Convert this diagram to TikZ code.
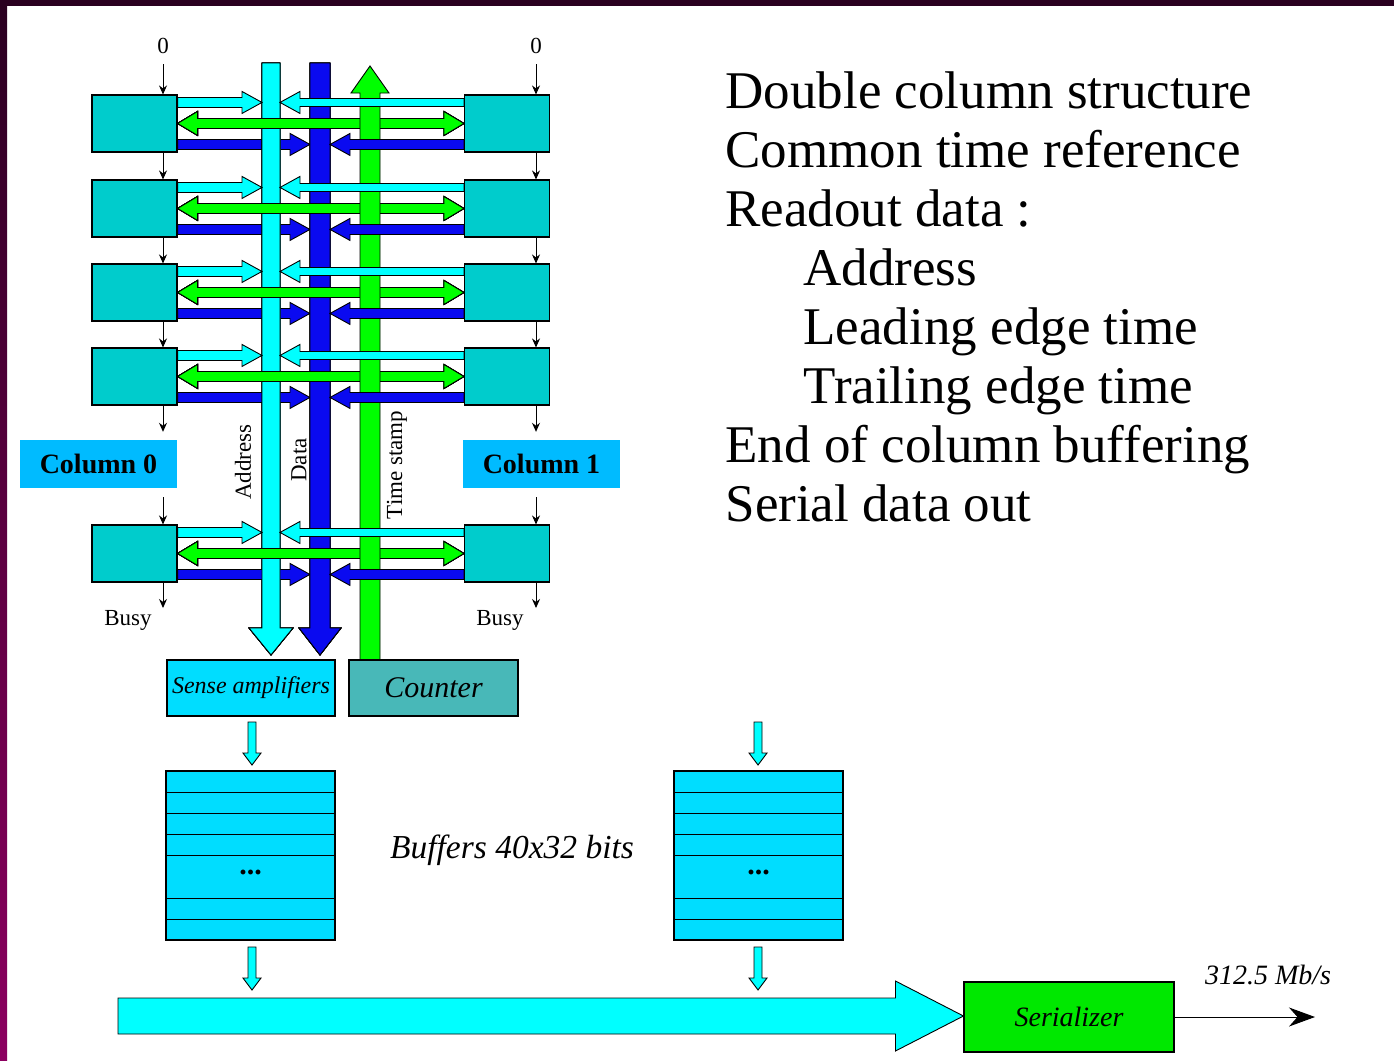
\documentclass[tikz,border=0pt]{standalone}
\usepackage{fontspec}
\setmainfont{Liberation Serif}
\usetikzlibrary{arrows.meta}
\usetikzlibrary{calc}
\definecolor{cellteal}{RGB}{0,204,204}
\definecolor{addrcyan}{RGB}{0,255,255}
\definecolor{datablue}{RGB}{10,10,240}
\definecolor{stampgreen}{RGB}{0,255,0}
\definecolor{serialgreen}{RGB}{0,232,0}
\definecolor{labelblue}{RGB}{0,187,255}
\definecolor{ampblue}{RGB}{0,221,255}
\definecolor{countteal}{RGB}{72,184,184}
\definecolor{framedark}{RGB}{42,0,32}
\definecolor{framemag}{RGB}{140,0,96}
\tikzset{
cell/.style={ % pixel cells of the two columns
draw, line width=1.1pt,
fill=cellteal,
minimum width=85pt, minimum height=57pt,
inner sep=0pt},
collabel/.style={ % Column 0 / Column 1 tags
fill=labelblue,
minimum width=157pt, minimum height=48pt,
font=\fontsize{28}{30}\selectfont\bfseries},
unit/.style={ % boxes below the matrix
draw, line width=1.1pt,
inner sep=0pt},
sig/.style={ % thin token / busy lines
-{Stealth[length=9pt,width=8pt]},
line width=1pt},
small/.style={font=\fontsize{23}{25}\selectfont},
slanted/.style={font=\itshape\fontsize{28}{30}\selectfont},
bigtext/.style={anchor=base west, font=\fontsize{53}{59}\selectfont},
cyanarr/.style={draw, line width=0.9pt, fill=addrcyan},
bluearr/.style={draw, line width=0.9pt, fill=datablue},
greenarr/.style={draw, line width=0.9pt, fill=stampgreen}}
% block arrows: style, start, tip, half shaft, half head, head length
\newcommand{\harr}[6]{%
\filldraw[#1] let \p1=(#2), \p2=(#3), \n1={\x2-#6*((\x2-\x1)/abs(\x2-\x1))} in
(\x1,\y1+#4) -- (\n1,\y1+#4) -- (\n1,\y1+#5) -- (\x2,\y1)
-- (\n1,\y1-#5) -- (\n1,\y1-#4) -- (\x1,\y1-#4) -- cycle;}
\newcommand{\varr}[6]{%
\filldraw[#1] let \p1=(#2), \p2=(#3), \n1={\y2-#6*((\y2-\y1)/abs(\y2-\y1))} in
(\x1+#4,\y1) -- (\x1+#4,\n1) -- (\x1+#5,\n1) -- (\x1,\y2)
-- (\x1-#5,\n1) -- (\x1-#4,\n1) -- (\x1-#4,\y1) -- cycle;}

\begin{document}
\begin{tikzpicture}[x=1pt,y=-1pt]
\useasboundingbox (0,0) rectangle (1394,1060);
% slide frame
\fill[white] (0,0) rectangle (1394,1060);
\fill[framedark] (0,0) rectangle (1394,6);
\shade[top color=framedark, bottom color=framemag] (0,0) rectangle (7,1060);

% cells
\foreach \i/\y in {1/95,2/180,3/264,4/348,5/525}{
\node[cell] (L\i) at (134.5,\y+28.5) {};
\node[cell] (R\i) at (507,\y+28.5) {};
}
\node[collabel] (col0) at (98.5,464) {Column 0};
\node[collabel] (col1) at (541.5,464) {Column 1};
\node[small] (zeroL) at (163,46) {0};
\node[small] (zeroR) at (536,46) {0};
\node[small] (busyL) at (128,620) {Busy};
\node[small] (busyR) at (500,620) {Busy};

% token lines
\draw[sig, shorten <=7pt] (zeroL.south) -- (163,0 |- L1.north);
\draw[sig, shorten <=7pt] (zeroR.south) -- (536,0 |- R1.north);
\foreach \i/\j in {1/2,2/3,3/4}{
\draw[sig] (163,0 |- L\i.south) -- (163,0 |- L\j.north);
\draw[sig] (536,0 |- R\i.south) -- (536,0 |- R\j.north);
}
\draw[sig, shorten >=8pt] (163,0 |- L4.south) -- (163,0 |- col0.north);
\draw[sig, shorten >=8pt] (536,0 |- R4.south) -- (536,0 |- col1.north);
\draw[sig, shorten <=9pt] (163,0 |- col0.south) -- (163,0 |- L5.north);
\draw[sig, shorten <=9pt] (536,0 |- col1.south) -- (536,0 |- R5.north);
\draw[sig] (163,0 |- L5.south) -- (163,608);
\draw[sig] (536,0 |- R5.south) -- (536,608);

% periphery
\node[unit, fill=ampblue, minimum width=168pt, minimum height=56pt,
font=\itshape\fontsize{24}{26}\selectfont] (sense) at (251,688) {Sense amplifiers};
\node[unit, fill=countteal, minimum width=169pt, minimum height=56pt,
font=\itshape\fontsize{30}{32}\selectfont] (counter) at (433.5,688) {Counter};

% buses
\coordinate (addrW) at (262,0);
\coordinate (addrE) at (280,0);
\coordinate (dataW) at (310,0);
\coordinate (dataE) at (330,0);
\foreach \i in {1,...,5}
\harr{bluearr}{[yshift=-50pt]L\i.north east}{dataW}{5}{11}{20}
\varr{bluearr}{320,63}{320,655}{10}{21}{27}
\varr{cyanarr}{271,63}{271,655}{9}{22}{27}
\foreach \i in {1,...,5}
\filldraw[greenarr] let \p1=([yshift=-29pt]L\i.north east), \p2=(R\i.west) in
(\x1,\y1) -- (\x1+20,\y1+12) -- (\x1+20,\y1+5) -- (\x2-20,\y1+5) -- (\x2-20,\y1+12)
-- (\x2,\y1) -- (\x2-20,\y1-12) -- (\x2-20,\y1-5) -- (\x1+20,\y1-5) -- (\x1+20,\y1-12) -- cycle;
\varr{greenarr}{370,0 |- counter.north}{370,66}{10}{19}{27}
\foreach \i in {1,...,5}{
\harr{cyanarr}{[yshift=-8pt]L\i.north east}{addrW}{5}{11}{20}
\harr{cyanarr}{[yshift=-8pt]R\i.north west}{addrE}{4}{11}{20}
\harr{bluearr}{[yshift=-50pt]R\i.north west}{dataE}{5}{11}{20}
}
\node[small, rotate=90] (addrlbl) at (243,462) {Address};
\node[small, rotate=90] (datalbl) at (299,460) {Data};
\node[small, rotate=90] (stamplbl) at (397,465) {Time stamp};

% end of column buffers
\node[unit, fill=ampblue, minimum width=169pt, minimum height=169pt] (bufL) at (250.5,855.5) {};
\node[unit, fill=ampblue, minimum width=169pt, minimum height=169pt] (bufR) at (758.5,855.5) {};
\foreach \d in {22,43,64,85,128,149}{
\draw[line width=1.1pt] ($(bufL.north west)+(0,\d)$) -- ($(bufL.north east)+(0,\d)$);
\draw[line width=1.1pt] ($(bufR.north west)+(0,\d)$) -- ($(bufR.north east)+(0,\d)$);
}
\node[font=\bfseries\fontsize{30}{32}\selectfont] (dotsL) at (250.5,872) {...};
\node[font=\bfseries\fontsize{30}{32}\selectfont] (dotsR) at (758.5,872) {...};
\node[slanted, font=\itshape\fontsize{33.5}{35}\selectfont] (buflbl) at (512,850) {Buffers 40x32 bits};
\varr{cyanarr}{252,722}{252,765}{4}{9}{12}
\varr{cyanarr}{758,722}{758,765}{4}{9}{12}
\varr{cyanarr}{252,947}{252,990}{4}{9}{12}
\varr{cyanarr}{758,947}{758,990}{4}{9}{12}

% serial output
\node[unit, fill=serialgreen, minimum width=210pt, minimum height=70pt, slanted] (ser) at (1069,1017) {Serializer};
\harr{cyanarr}{118,1016}{ser.west}{18}{35}{68}
\coordinate (out) at (1315,1017);
\draw[line width=1pt, -{Stealth[length=26pt,width=19pt]}] (ser.east) -- (out);
\node[slanted] (rate) at (1268,975) {312.5 Mb/s};

% summary text
\node[bigtext] (t1) at (722,108) {Double column structure};
\node[bigtext] (t2) at (722,167) {Common time reference};
\node[bigtext] (t3) at (722,226) {Readout data :};
\node[bigtext] (t4) at (800,285) {Address};
\node[bigtext] (t5) at (800,344) {Leading edge time};
\node[bigtext] (t6) at (800,403) {Trailing edge time};
\node[bigtext] (t7) at (722,462) {End of column buffering};
\node[bigtext] (t8) at (722,521) {Serial data out};
\end{tikzpicture}
\end{document}
